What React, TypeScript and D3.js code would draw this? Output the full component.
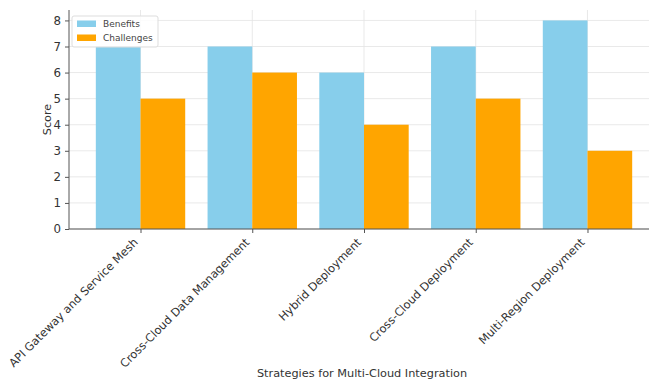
import React, { useEffect, useRef } from "react";
import * as d3 from "d3";

const strategies = [
  "API Gateway and Service Mesh",
  "Cross-Cloud Data Management",
  "Hybrid Deployment",
  "Cross-Cloud Deployment",
  "Multi-Region Deployment",
];
const benefits = [7, 7, 6, 7, 8];
const challenges = [5, 6, 4, 5, 3];
const yTicks = [0, 1, 2, 3, 4, 5, 6, 7, 8];
const seriesNames = ["Benefits", "Challenges"];
const seriesColors = ["#87CEEB", "#FFA500"];

export default function App() {
  const ref = useRef<SVGSVGElement>(null);
  const width = 649;
  const height = 379;
  const margin = { top: 10, right: -10, bottom: 150, left: 69 };

  useEffect(() => {
    const svg = d3.select(ref.current);
    svg.selectAll("*").remove();
    const font = "DejaVu Sans, sans-serif";
    const plotW = width - margin.left - margin.right;
    const plotH = height - margin.top - margin.bottom;

    const g = svg
      .append("g")
      .attr("transform", `translate(${margin.left},${margin.top})`);

    // bar centers sit at index +/- 0.2, matplotlib style limits
    const x = d3.scaleLinear().domain([-0.64, 4.64]).range([0, plotW]);
    const y = d3.scaleLinear().domain([0, 8.4]).range([plotH, 0]);
    const barW = x(0.4) - x(0);

    // grid
    g.append("g")
      .selectAll("line")
      .data(yTicks)
      .enter()
      .append("line")
      .attr("x1", 0)
      .attr("x2", plotW)
      .attr("y1", (d) => y(d))
      .attr("y2", (d) => y(d))
      .attr("stroke", "#e3e3e3")
      .attr("stroke-width", 0.8);
    g.append("g")
      .selectAll("line")
      .data(strategies)
      .enter()
      .append("line")
      .attr("x1", (d, i) => x(i))
      .attr("x2", (d, i) => x(i))
      .attr("y1", 0)
      .attr("y2", plotH)
      .attr("stroke", "#e3e3e3")
      .attr("stroke-width", 0.8);

    // bars
    const series = [benefits, challenges];
    series.forEach((vals, s) => {
      g.append("g")
        .selectAll("rect")
        .data(vals)
        .enter()
        .append("rect")
        .attr("x", (d, i) => x(i + (s === 0 ? -0.4 : 0)))
        .attr("y", (d) => y(d))
        .attr("width", barW)
        .attr("height", (d) => plotH - y(d))
        .attr("fill", seriesColors[s]);
    });

    // axes
    const yAxis = g
      .append("g")
      .call(d3.axisLeft(y).tickValues(yTicks).tickSize(4).tickPadding(4));
    yAxis.select(".domain").attr("stroke", "#555").attr("d", `M0,0V${plotH}`);
    yAxis.selectAll(".tick line").attr("stroke", "#555");
    yAxis
      .selectAll("text")
      .attr("font-family", font)
      .attr("font-size", 11.8)
      .attr("fill", "#333");

    const xAxis = g
      .append("g")
      .attr("transform", `translate(0,${plotH})`)
      .call(
        d3
          .axisBottom(x)
          .tickValues(d3.range(strategies.length))
          .tickFormat((d) => strategies[d as number])
          .tickSize(4)
      );
    xAxis.select(".domain").attr("stroke", "#555").attr("d", `M0,0H${plotW}`);
    xAxis.selectAll(".tick line").attr("stroke", "#555");
    xAxis
      .selectAll("text")
      .attr("font-family", font)
      .attr("font-size", 11.4)
      .attr("fill", "#333")
      .attr("text-anchor", "end")
      .attr("x", 0)
      .attr("y", 0)
      .attr("dy", 0)
      .attr("transform", "translate(-2.5,14) rotate(-45)");

    // axis titles
    svg
      .append("text")
      .attr("transform", `translate(51,${margin.top + plotH / 2}) rotate(-90)`)
      .attr("text-anchor", "middle")
      .attr("font-family", font)
      .attr("font-size", 11.2)
      .attr("fill", "#333")
      .text("Score");
    svg
      .append("text")
      .attr("x", 362)
      .attr("y", 377)
      .attr("text-anchor", "middle")
      .attr("font-family", font)
      .attr("font-size", 11.3)
      .attr("fill", "#333")
      .text("Strategies for Multi-Cloud Integration");

    // legend
    const legend = svg.append("g").attr("transform", "translate(72,16)");
    legend
      .append("rect")
      .attr("width", 86)
      .attr("height", 31)
      .attr("rx", 2)
      .attr("fill", "white")
      .attr("fill-opacity", 0.85)
      .attr("stroke", "#ddd");
    seriesNames.forEach((name, i) => {
      legend
        .append("rect")
        .attr("x", 5)
        .attr("y", 4.5 + i * 14)
        .attr("width", 19)
        .attr("height", 6.5)
        .attr("fill", seriesColors[i]);
      legend
        .append("text")
        .attr("x", 31)
        .attr("y", 11 + i * 14)
        .attr("font-family", font)
        .attr("font-size", 9)
        .attr("fill", "#444")
        .text(name);
    });
  }, []);

  return (
    <svg
      ref={ref}
      width={width}
      height={height}
      style={{ position: "absolute", left: 0, top: 0, background: "white" }}
    />
  );
}
